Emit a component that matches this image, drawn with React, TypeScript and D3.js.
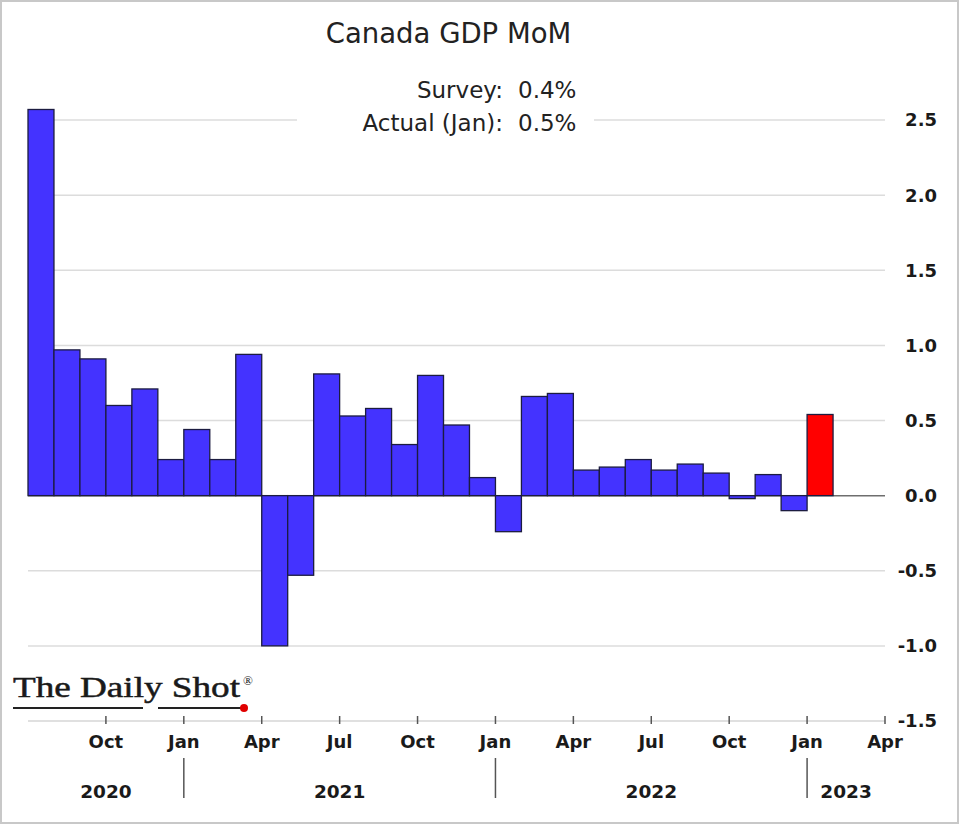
import React from "react";
import * as d3 from "d3";

const startMonth = new Date(2020, 6, 1);
const endMonth = new Date(2023, 3, 1); // axis end (Apr 2023)
const values = [
  2.57, 0.97, 0.91, 0.6, 0.71, 0.24,
  0.44, 0.24, 0.94, -1.0, -0.53, 0.81, 0.53, 0.58, 0.34, 0.8, 0.47, 0.12,
  -0.24, 0.66, 0.68, 0.17, 0.19, 0.24, 0.17, 0.21, 0.15, -0.02, 0.14, -0.1,
  0.54,
];
const highlightIndex = values.length - 1;
const yTicks = [2.5, 2.0, 1.5, 1.0, 0.5, 0.0, -0.5, -1.0, -1.5];
const years = ["2020", "2021", "2022", "2023"];
const title = "Canada GDP MoM";
const surveyRows = [
  ["Survey:", "0.4%"],
  ["Actual (Jan):", "0.5%"],
];

const W = 968;
const H = 830;
const FONT = "'DejaVu Sans', sans-serif";
const SERIF = "'Liberation Serif', 'DejaVu Serif', serif";

export default function App() {
  const nMonths = d3.timeMonth.count(startMonth, endMonth);
  const x = d3.scaleLinear().domain([0, nMonths]).range([28, 885]);
  const y = d3.scaleLinear().domain([-1.5, 2.5]).range([721, 120]);
  const months = d3.timeMonth.range(startMonth, endMonth);
  const fmt = d3.timeFormat("%b");

  const tickIdx: number[] = [];
  for (let i = 1; i <= nMonths; i++) {
    const d = d3.timeMonth.offset(startMonth, i);
    if (d.getMonth() % 3 === 0) tickIdx.push(i);
  }
  const yearBounds: number[] = [0];
  months.forEach((d, i) => {
    if (i > 0 && d.getMonth() === 0) yearBounds.push(i);
  });
  yearBounds.push(nMonths);

  return (
    <svg
      width={W}
      height={H}
      style={{ position: "absolute", left: 0, top: 0, background: "#fff" }}
    >
      <rect x={1} y={1} width={957} height={822} fill="#fff" stroke="#c8c8c8" strokeWidth={2} />

      {/* gridlines */}
      {yTicks
        .filter((t) => t !== 0 && t !== -1.5)
        .map((t) => (
          <line key={t} x1={x(0)} x2={x(nMonths)} y1={y(t)} y2={y(t)} stroke="#dcdcdc" strokeWidth={1.5} />
        ))}

      {/* title box */}
      <rect x={297} y={58} width={297} height={84} fill="#fff" />
      <text x={448.5} y={43} textAnchor="middle" fontFamily={FONT} fontSize={27.5} fill="#222">
        {title}
      </text>
      {surveyRows.map((r, i) => (
        <g key={i} fontFamily={FONT} fontSize={23} fill="#222">
          <text x={503} y={98 + i * 33} textAnchor="end">{r[0]}</text>
          <text x={518} y={98 + i * 33}>{r[1]}</text>
        </g>
      ))}

      {/* zero line */}
      <line x1={x(0)} x2={x(nMonths)} y1={y(0)} y2={y(0)} stroke="#6e6e6e" strokeWidth={1.5} />

      {/* bars */}
      {values.map((v, i) => (
        <rect
          key={i}
          x={x(i)}
          width={x(i + 1) - x(i)}
          y={y(Math.max(0, v))}
          height={Math.abs(y(v) - y(0))}
          fill={i === highlightIndex ? "#FF0000" : "#4433FF"}
          stroke="#1c1c40"
          strokeWidth={1.3}
        />
      ))}

      {/* y labels */}
      {yTicks.map((t) => (
        <text
          key={t}
          x={937}
          y={y(t)}
          dy="0.36em"
          textAnchor="end"
          fontFamily={FONT}
          fontWeight="bold"
          fontSize={18}
          fill="#1a1a1a"
        >
          {d3.format(".1f")(t).replace("−", "-")}
        </text>
      ))}

      {/* x axis */}
      <line x1={x(0)} x2={x(nMonths)} y1={y(-1.5)} y2={y(-1.5)} stroke="#d6d6d6" strokeWidth={1.5} />
      {tickIdx.map((i) => (
        <g key={i}>
          <line x1={x(i)} x2={x(i)} y1={y(-1.5) - 5} y2={y(-1.5) + 3} stroke="#555" strokeWidth={1.5} />
          <text
            x={x(i)}
            y={748}
            textAnchor="middle"
            fontFamily={FONT}
            fontWeight="bold"
            fontSize={18}
            fill="#1a1a1a"
          >
            {fmt(d3.timeMonth.offset(startMonth, i))}
          </text>
        </g>
      ))}
      {yearBounds.slice(1, -1).map((b) => (
        <line key={b} x1={x(b)} x2={x(b)} y1={758} y2={798} stroke="#555" strokeWidth={1.5} />
      ))}
      {years.map((yr, k) => (
        <text
          key={yr}
          x={(x(yearBounds[k]) + x(yearBounds[k + 1])) / 2}
          y={798}
          textAnchor="middle"
          fontFamily={FONT}
          fontWeight="bold"
          fontSize={18.5}
          fill="#1a1a1a"
        >
          {yr}
        </text>
      ))}

      {/* logo */}
      <text
        x={13}
        y={697}
        fontFamily={SERIF}
        fontSize={29}
        fill="#1a1a1a"
        stroke="#1a1a1a"
        strokeWidth={0.5}
        textLength={227}
        lengthAdjust="spacingAndGlyphs"
      >
        The Daily Shot
      </text>
      <text x={243} y={685} fontFamily={SERIF} fontSize={13} fill="#1a1a1a">
        ®
      </text>
      <line x1={13} x2={143} y1={708} y2={708} stroke="#222" strokeWidth={2} />
      <line x1={158} x2={243} y1={708} y2={708} stroke="#222" strokeWidth={2} />
      <circle cx={244} cy={708} r={4} fill="#e00000" />
    </svg>
  );
}
